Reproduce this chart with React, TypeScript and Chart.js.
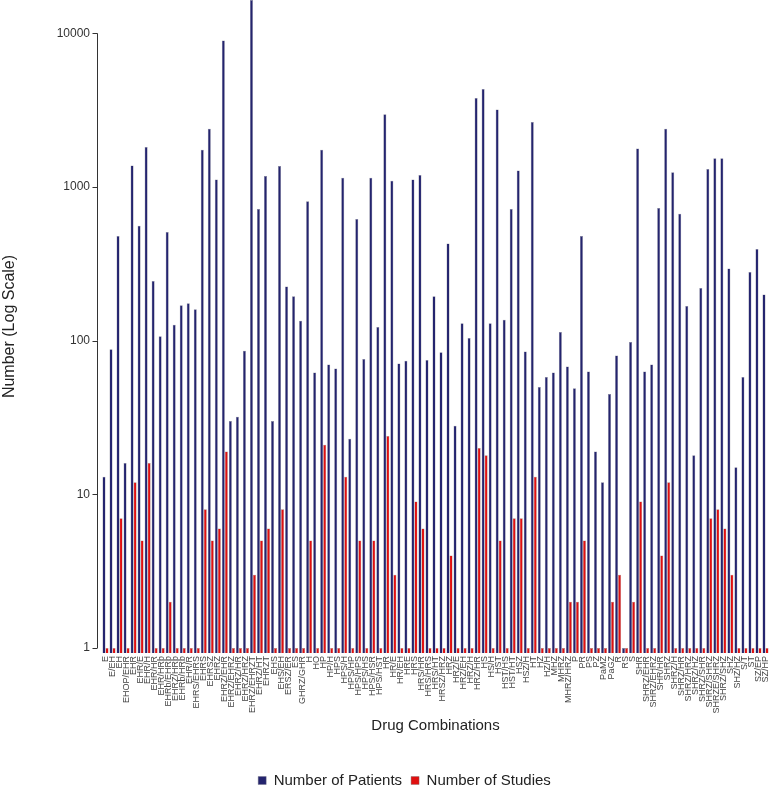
import React, { useEffect, useRef } from "react";
import { Chart, registerables } from "chart.js";
Chart.register(...registerables);

const categories = [
  "E", "E/EH", "EH", "EHOP/EHR", "EHR", "EHR/E", "EHR/H", "EHR/HR", "EHR/HRb", "EHRb/EHRb",
  "EHRZ/HRb", "EHRb/HRb", "EHR/R", "EHRS/EHRS", "EHRS", "EHRSZ", "EHRZ", "EHRZ/EHR", "EHRZ/EHRZ", "EHRZ/HR",
  "EHRZ/HRZ", "EHRZ/EHRZT", "EHRZ/HT", "EHRZT", "EHS", "EHS/EH", "ERSZ/ER", "ES", "GHRZ/GHR", "H",
  "HO", "HP", "HP/H", "HPS", "HPS/H", "HPS/HP", "HPS/HPS", "HPS/HS", "HPS/HSR", "HPS/HST",
  "HR", "HR/E", "HR/EH", "HRE", "HRS", "HRS/HR", "HRS/HRS", "HRS/HT", "HRSZ/HRZ", "HRZ",
  "HRZ/E", "HRZ/EH", "HRZ/H", "HRZ/HR", "HS", "HS/H", "HST", "HST/HS", "HST/HT", "HSZ",
  "HSZ/H", "HT", "HZ", "HZ/H", "MHZ", "MHRZ", "MHRZ/HRZ", "P", "PR", "PS",
  "PZ", "PaMZ", "PaGZ", "R", "RS", "S", "SHR", "SHRZ/EHR", "SHRZ/EHRZ", "SHR/HR",
  "SHRZ", "SHRZ/H", "SHRZ/HR", "SHRZ/HRZ", "SHRZ/HZ", "SHRZ/SHR", "SHRZ/SHRZ", "SHRZE/SHRZ", "SHRZ/SHZ", "SHZ",
  "SHZ/HZ", "S/T", "ST", "SZ/EP", "SZ/HP"
];

const patients = [
  13, 88, 480, 16, 1380, 560, 1820, 245, 107, 510,
  127, 170, 175, 160, 1750, 2400, 1120, 9000, 30, 32,
  86, 16500, 720, 1180, 30, 1370, 225, 195, 135, 810,
  62, 1750, 70, 66, 1150, 23, 620, 76, 1150, 123,
  2980, 1100, 71, 74, 1120, 1200, 75, 195, 84, 430,
  28, 130, 104, 3800, 4350, 130, 3200, 137, 720, 1280,
  85, 2650, 50, 58, 62, 114, 68, 49, 480, 63,
  19, 12, 45, 80, 1, 98, 1780, 63, 70, 730,
  2400, 1250, 670, 168, 18, 220, 1310, 1540, 1540, 295,
  15, 58, 280, 395, 200
];

const studies = [
  1, 1, 7, 1, 12, 5, 16, 1, 1, 2,
  1, 1, 1, 1, 8, 5, 6, 19, 1, 1,
  1, 3, 5, 6, 1, 8, 1, 1, 1, 5,
  1, 21, 1, 1, 13, 1, 5, 1, 5, 1,
  24, 3, 1, 1, 9, 6, 1, 1, 1, 4,
  1, 1, 1, 20, 18, 1, 5, 1, 7, 7,
  1, 13, 1, 1, 1, 1, 2, 2, 5, 1,
  1, 1, 2, 3, 1, 2, 9, 1, 1, 4,
  12, 1, 1, 1, 1, 1, 7, 8, 6, 3,
  1, 1, 1, 1, 1
];

const yTicks = [1, 10, 100, 1000, 10000];

const FONT = "'Liberation Sans', Arial, Helvetica, sans-serif";

export default function App() {
  const ref = useRef<HTMLCanvasElement>(null);
  useEffect(() => {
    if (!ref.current) return;
    const axisLine = {
      id: "axisLine",
      afterDraw(chart: any) {
        const ys = chart.scales.y;
        const ctx = chart.ctx;
        const x = Math.round(chart.chartArea.left - 5) + 0.5;
        ctx.save();
        ctx.strokeStyle = "#333";
        ctx.lineWidth = 1;
        ctx.beginPath();
        ctx.moveTo(x, ys.getPixelForValue(yTicks[yTicks.length - 1]));
        ctx.lineTo(x, ys.getPixelForValue(yTicks[0]));
        for (const t of yTicks) {
          const py = Math.round(ys.getPixelForValue(t)) + 0.5;
          ctx.moveTo(x - 5, py);
          ctx.lineTo(x, py);
        }
        ctx.stroke();
        ctx.restore();
      },
    };
    const chart = new Chart(ref.current, {
      type: "bar",
      data: {
        labels: categories,
        datasets: [
          {
            label: "Number of Patients",
            data: patients,
            backgroundColor: "#24246e",
            borderColor: "rgba(110,110,130,0.8)",
            borderWidth: 0.5,
          },
          {
            label: "Number of Studies",
            data: studies,
            backgroundColor: "#e01010",
            borderColor: "rgba(120,110,110,0.8)",
            borderWidth: 0.5,
          },
        ],
      },
      options: {
        animation: false,
        responsive: false,
        maintainAspectRatio: false,
        layout: { padding: { left: 40, right: 2, top: 0, bottom: -9 } },
        datasets: { bar: { categoryPercentage: 0.86, barPercentage: 1 } },
        plugins: {
          legend: {
            position: "bottom",
            labels: {
              boxWidth: 8,
              boxHeight: 8,
              padding: 9,
              color: "#222",
              font: { family: FONT, size: 15 },
            },
          },
          tooltip: { enabled: false },
        },
        scales: {
          x: {
            type: "category",
            grid: { display: false, drawTicks: false },
            border: { display: false },
            ticks: {
              autoSkip: false,
              minRotation: 90,
              maxRotation: 90,
              padding: 3,
              color: "#444",
              font: { family: FONT, size: 9 },
            },
            title: {
              display: true,
              text: "Drug Combinations",
              color: "#222",
              font: { family: FONT, size: 15 },
              padding: { top: 4, bottom: 29 },
            },
            afterFit(scale: any) {
              scale.height = 111;
              scale.paddingLeft = 0;
              scale.paddingRight = 0;
            },
          },
          y: {
            type: "logarithmic",
            min: 0.928,
            max: 16500,
            grid: { display: false, drawTicks: false },
            border: { display: false },
            afterBuildTicks(scale: any) {
              scale.ticks = yTicks.map((v) => ({ value: v }));
            },
            ticks: {
              padding: 12,
              color: "#333",
              font: { family: FONT, size: 12 },
              callback: (v: any) => String(v),
            },
            title: {
              display: true,
              text: "Number (Log Scale)",
              color: "#222",
              font: { family: FONT, size: 16 },
              padding: { top: -40, bottom: 0 },
            },
            afterFit(scale: any) {
              scale.width = 62;
              scale.paddingTop = 0;
              scale.paddingBottom = 0;
            },
          },
        },
      },
      plugins: [axisLine],
    });
    return () => chart.destroy();
  }, []);
  return (
    <div style={{ position: "absolute", left: 0, top: 0, width: 771, height: 789, background: "#fff" }}>
      <canvas ref={ref} width={771} height={789} style={{ width: 771, height: 789 }} />
    </div>
  );
}
